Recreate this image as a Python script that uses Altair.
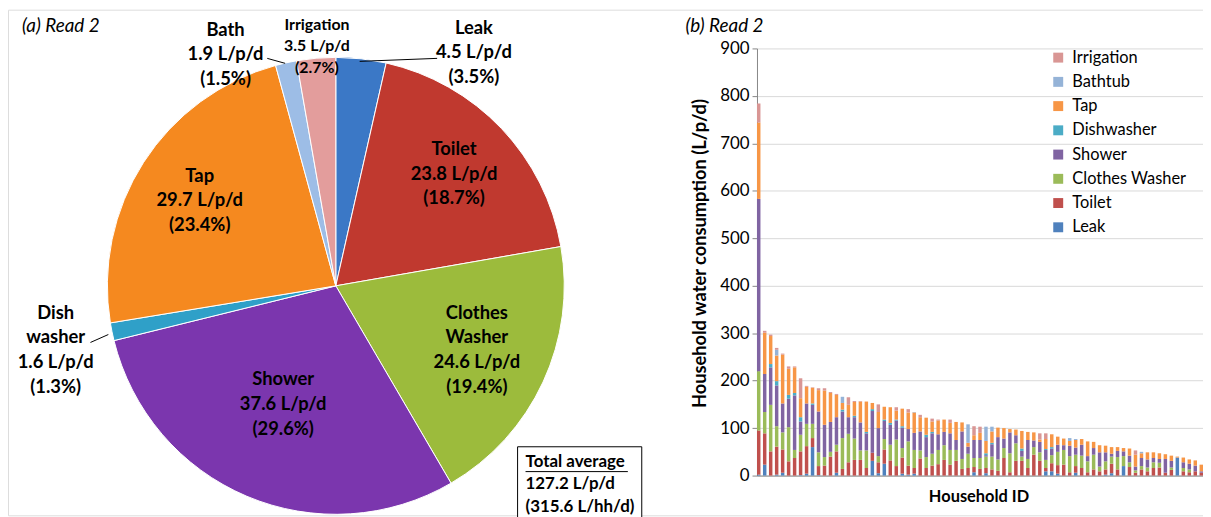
import altair as alt
import pandas as pd

FONT = "Lato"

# ---------------- (a) average end-use split ----------------
pie_categories = ["Leak", "Toilet", "Clothes Washer", "Shower", "Dish washer", "Tap", "Bath", "Irrigation"]
pie_label_names = ["Leak", "Toilet", "Clothes\nWasher", "Shower", "Dish\nwasher", "Tap", "Bath", "Irrigation"]
pie_values = [4.5, 23.8, 24.6, 37.6, 1.6, 29.7, 1.9, 3.5]
pie_percents = ["3.5%", "18.7%", "19.4%", "29.6%", "1.3%", "23.4%", "1.5%", "2.7%"]
total_lines = ["Total average", "127.2 L/p/d", "(315.6 L/hh/d)"]

# ---------------- (b) per-household split (L/p/d) ----------------
household_ids = list(range(1, 76))
end_uses = ["Leak", "Toilet", "Clothes Washer", "Shower", "Dishwasher", "Tap", "Bathtub", "Irrigation"]
leak = [2, 23, 0, 2, 6, 0, 0, 1, 4, 60, 1, 0, 0, 6, 0, 0, 0, 0, 0, 31,
        5, 25, 0, 0, 4, 2, 4, 0, 0, 0, 0, 0, 0, 0, 0, 0, 7, 0, 5, 0,
        0, 0, 0, 0, 0, 0, 0, 0, 9, 9, 4, 0, 0, 6, 0, 0, 0, 0, 2, 5,
        0, 20, 0, 0, 0, 0, 0, 0, 0, 0, 38, 0, 0, 0, 0]
toilet = [93, 66, 51, 59, 49, 30, 37, 50, 58, 19, 19, 21, 40, 45, 14, 28, 33, 33, 16, 17,
          23, 30, 32, 20, 34, 19, 12, 36, 16, 21, 24, 33, 23, 31, 14, 16, 11, 14, 11, 13,
          10, 37, 7, 31, 31, 16, 44, 31, 7, 17, 18, 23, 7, 14, 16, 7, 13, 9, 11, 20,
          13, 0, 18, 6, 13, 9, 16, 17, 6, 12, 0, 9, 7, 9, 6]
clothes_washer = [125, 45, 98, 43, 36, 72, 17, 35, 47, 30, 29, 18, 10, 14, 65, 60, 45, 20, 37, 0,
                  13, 22, 33, 56, 20, 51, 38, 17, 23, 25, 30, 31, 31, 23, 21, 30, 19, 23, 24, 27,
                  24, 21, 40, 37, 9, 19, 16, 18, 17, 17, 28, 31, 34, 24, 26, 23, 31, 10, 17, 15,
                  26, 21, 10, 5, 7, 8, 12, 10, 0, 5, 0, 7, 6, 0, 0]
shower = [363, 80, 79, 86, 61, 60, 115, 28, 43, 40, 86, 68, 63, 58, 56, 35, 45, 59, 36, 88,
          59, 38, 42, 40, 43, 26, 36, 40, 42, 43, 33, 28, 35, 21, 58, 15, 38, 38, 3, 26,
          47, 20, 44, 17, 12, 40, 14, 22, 21, 14, 15, 10, 22, 15, 23, 11, 14, 30, 19, 6,
          13, 10, 14, 8, 17, 17, 9, 8, 29, 14, 0, 12, 12, 12, 3]
dishwasher = [0, 0, 7, 9, 0, 8, 5, 9, 0, 3, 0, 0, 0, 0, 4, 0, 3, 0, 3, 4,
              0, 3, 4, 2, 3, 0, 0, 0, 5, 3, 0, 0, 0, 0, 0, 0, 0, 0, 4, 3,
              0, 0, 0, 0, 5, 0, 0, 0, 2, 3, 0, 0, 0, 0, 0, 0, 0, 0, 0, 0,
              0, 0, 0, 0, 0, 0, 0, 0, 0, 0, 0, 0, 0, 0, 0]
tap = [161, 87, 59, 54, 103, 55, 54, 40, 35, 33, 45, 72, 61, 47, 14, 26, 29, 44, 64, 13,
       34, 27, 33, 19, 37, 35, 43, 30, 36, 22, 29, 26, 22, 38, 19, 8, 10, 15, 26, 24,
       20, 22, 7, 12, 37, 17, 17, 5, 21, 27, 17, 14, 10, 16, 12, 31, 13, 15, 14, 14,
       8, 7, 15, 25, 10, 15, 12, 12, 10, 11, 2, 10, 9, 11, 14]
bathtub = [0, 0, 0, 12, 0, 0, 0, 0, 0, 0, 0, 0, 0, 0, 13, 0, 0, 0, 0, 0,
           0, 0, 0, 0, 0, 0, 1, 0, 0, 0, 0, 0, 0, 0, 0, 39, 0, 0, 30, 10,
           0, 0, 0, 0, 0, 0, 0, 0, 0, 0, 0, 0, 6, 2, 0, 0, 0, 0, 0, 0,
           0, 0, 0, 0, 3, 0, 0, 0, 0, 0, 0, 0, 0, 0, 0]
irrigation = [40, 4, 3, 4, 2, 5, 2, 42, 2, 1, 4, 5, 2, 2, 0, 16, 2, 1, 0, 0,
              16, 0, 0, 7, 0, 7, 0, 5, 0, 6, 2, 0, 7, 0, 0, 0, 19, 13, 0, 0,
              0, 0, 0, 0, 0, 0, 0, 13, 12, 0, 0, 0, 0, 0, 0, 0, 0, 0, 0, 0,
              0, 0, 0, 9, 0, 0, 0, 0, 0, 0, 0, 0, 0, 0, 0]
y_ticks = [0, 100, 200, 300, 400, 500, 600, 700, 800, 900]

# ---------------- styles / layout ----------------
pie_colors = ["#3b78c6", "#c0392f", "#9cbb3c", "#7b36ae", "#2fa0c8", "#f5891f", "#9dbde6", "#e39d9c"]
bar_colors = ["#4f81bd", "#c0504d", "#9bbb59", "#8064a2", "#4bacc6", "#f79646", "#95b3d7", "#d99694"]
CX, CY, R = 330, 278, 230
# label anchor (x of block centre, y of first line centre), font size, line height
label_layout = {
    "Leak": (469, 18, 18.5, 25),
    "Toilet": (449, 140, 18.5, 25),
    "Clothes Washer": (472, 305, 18.5, 25),
    "Shower": (277, 372, 18.5, 25),
    "Dish washer": (48, 305, 18.5, 25),
    "Tap": (193, 167, 18.5, 25),
    "Bath": (219, 20, 18.5, 25),
    "Irrigation": (311, 15, 16, 22),
}

# ---------------- tables ----------------
pie_df = pd.DataFrame({"category": pie_categories, "value": pie_values,
                       "slice_order": list(range(len(pie_categories)))})
full_labels = [f"{n}\n{v} L/p/d\n({p})" for n, v, p in zip(pie_label_names, pie_values, pie_percents)]

series = [leak, toilet, clothes_washer, shower, dishwasher, tap, bathtub, irrigation]
rows = []
for k, (name, vals) in enumerate(zip(end_uses, series)):
    for hid, v in zip(household_ids, vals):
        rows.append({"household": hid, "end_use": name, "value": v, "stack_order": k})
bar_df = pd.DataFrame(rows)

# ---------------- pie ----------------
arcs = alt.Chart(pie_df).mark_arc(outerRadius=R, stroke="#ffffff", strokeWidth=1).encode(
    theta=alt.Theta("value:Q", stack=True),
    order=alt.Order("slice_order:Q", sort="ascending"),
    color=alt.Color("category:N", scale=alt.Scale(domain=pie_categories, range=pie_colors), legend=None),
    x=alt.value(CX), y=alt.value(CY),
)

pie_labels = []
for cat, txt in zip(pie_categories, full_labels):
    lx, ly, fs, lh = label_layout[cat]
    pie_labels.append(
        alt.Chart(pd.DataFrame({"t": [txt]})).mark_text(
            font=FONT, fontWeight="bold", fontSize=fs, lineBreak="\n", lineHeight=lh,
            baseline="middle", align="center", color="#000000"
        ).encode(text="t:N", x=alt.value(lx), y=alt.value(ly))
    )

def leader(x1, y1, x2, y2):
    return alt.Chart(pd.DataFrame({"k": [0]})).mark_rule(color="#000000", strokeWidth=1).encode(
        x=alt.value(x1), y=alt.value(y1), x2=alt.value(x2), y2=alt.value(y2))

leaders = [leader(261, 49, 279, 54), leader(432, 49, 354, 52), leader(83, 335, 101, 327)]

total_box = alt.Chart(pd.DataFrame({"k": [0]})).mark_rect(fill="#ffffff", stroke="#000000", strokeWidth=1).encode(
    x=alt.value(513), x2=alt.value(638), y=alt.value(440), y2=alt.value(515))
total_text = alt.Chart(pd.DataFrame({"t": ["\n".join(total_lines)]})).mark_text(
    font=FONT, fontWeight="bold", fontSize=17, lineBreak="\n", lineHeight=23, align="left",
    baseline="middle", color="#000000").encode(text="t:N", x=alt.value(521), y=alt.value(455))
total_underline = alt.Chart(pd.DataFrame({"k": [0]})).mark_rule(color="#000000", strokeWidth=1).encode(
    x=alt.value(521), x2=alt.value(624), y=alt.value(465))

title_a = alt.Chart(pd.DataFrame({"t": ["(a) Read 2"]})).mark_text(
    font=FONT, fontStyle="italic", fontSize=19, align="left", color="#000000").encode(
    text="t:N", x=alt.value(14), y=alt.value(16))
title_b = alt.Chart(pd.DataFrame({"t": ["(b) Read  2"]})).mark_text(
    font=FONT, fontStyle="italic", fontSize=19, align="left", color="#000000").encode(
    text="t:N", x=alt.value(682), y=alt.value(16))

# ---------------- stacked bars ----------------
legend_order = end_uses[::-1]
legend_colors = bar_colors[::-1]
bars = alt.Chart(bar_df).mark_bar().encode(
    x=alt.X("household:O", sort=household_ids,
            scale=alt.Scale(range=[754, 1203], paddingInner=0.42, paddingOuter=0),
            axis=alt.Axis(labels=False, ticks=False, grid=False, domain=True, domainColor="#868686",
                          offset=-40, title="Household ID", titleFont=FONT, titleFontSize=16.5,
                          titleFontWeight="bold", titleColor="#000000", titleX=977, titleY=21,
                          titleBaseline="middle")),
    y=alt.Y("value:Q", stack="zero",
            scale=alt.Scale(domain=[0, 900], range=[469, 39], nice=False),
            axis=alt.Axis(values=y_ticks, offset=-754, grid=True, gridColor="#d9d9d9",
                          domainColor="#868686", tickColor="#868686", tickSize=5,
                          labelFont=FONT, labelFontSize=17, labelColor="#000000", labelPadding=3,
                          title="Household water consumption (L/p/d)", titleFont=FONT,
                          titleFontSize=18.4, titleFontWeight="bold", titleColor="#000000",
                          titleX=-58, titleY=245, titleBaseline="middle", titleAngle=270)),
    color=alt.Color("end_use:N", scale=alt.Scale(domain=legend_order, range=legend_colors),
                    legend=alt.Legend(title=None, orient="none", legendX=1049, legendY=40,
                                      symbolType="square", symbolSize=100, symbolStrokeWidth=0,
                                      labelFont=FONT, labelFontSize=16.5, labelColor="#000000",
                                      labelOffset=6, rowPadding=7.4, padding=0)),
    order=alt.Order("stack_order:Q", sort="ascending"),
)

chart = alt.layer(
    bars, arcs, *pie_labels, *leaders,
    total_box, total_text, total_underline, title_a, title_b
).resolve_scale(color="independent").properties(
    width=1203, height=509, padding=0,
    autosize=alt.AutoSizeParams(type="none"),
).configure_view(strokeWidth=0).configure(background="#ffffff")

chart.save("out.html", embed_options={"renderer": "svg", "actions": False})
